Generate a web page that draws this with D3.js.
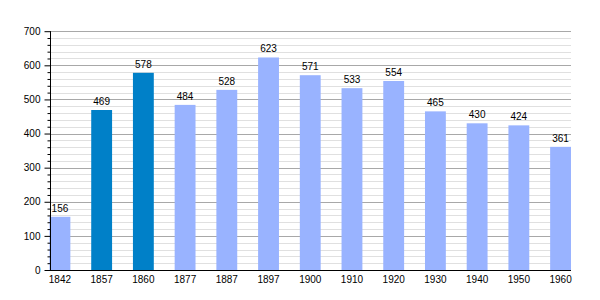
<!DOCTYPE html>
<html><head><meta charset="utf-8">
<script src="https://cdn.jsdelivr.net/npm/d3@7"></script>
<style>body{margin:0;background:#fff}svg{display:block}text{font-family:"Liberation Sans",Arial,sans-serif;font-size:10px;fill:#000}</style>
</head><body><svg id="c" width="600" height="300"></svg>
<script>
const years = ["1842","1857","1860","1877","1887","1897","1900","1910","1920","1930","1940","1950","1960"];
const population = [156,469,578,484,528,623,571,533,554,465,430,424,361];
const highlighted = ["1857","1860"];
const yTicks = [0,100,200,300,400,500,600,700];

const svg = d3.select("#c");
const x = d3.scaleBand().domain(years).range([49.5,571]).paddingInner(0.5).paddingOuter(0);
const y = d3.scaleLinear().domain([0,700]).range([270,31.2]);
const x0 = 50, x1 = 571;

// minor gridlines
const minor = d3.range(20,701,20).filter(v=>v%100!==0);
svg.append("g").selectAll("line").data(minor).join("line")
  .attr("x1",x0).attr("x2",x1).attr("y1",d=>Math.round(y(d))+0.5).attr("y2",d=>Math.round(y(d))+0.5)
  .attr("stroke","#e0e0e0").attr("stroke-width",1);
svg.append("g").selectAll("line").data(yTicks.filter(v=>v>0)).join("line")
  .attr("x1",x0).attr("x2",x1).attr("y1",d=>Math.round(y(d))+0.5).attr("y2",d=>Math.round(y(d))+0.5)
  .attr("stroke","#a8a8a8").attr("stroke-width",1);

// bars
svg.append("g").selectAll("rect").data(years).join("rect")
  .attr("x",d=>x(d)).attr("width",x.bandwidth())
  .attr("y",(d,i)=>y(population[i])).attr("height",(d,i)=>y(0)-y(population[i]))
  .attr("fill",d=>highlighted.includes(d)?"#0080c8":"#99b3ff");

// value labels
svg.append("g").selectAll("text").data(years).join("text")
  .attr("x",d=>x(d)+x.bandwidth()/2).attr("y",(d,i)=>y(population[i])-5)
  .attr("text-anchor","middle").text((d,i)=>population[i]);

// y axis
const yAxis = d3.axisLeft(y).tickValues(yTicks).tickSize(6).tickPadding(4);
const gy = svg.append("g").attr("transform",`translate(${x0+0.5},0)`).call(yAxis);
gy.select(".domain").attr("stroke","#000").attr("d",`M0,${y(700)}V${y(0)}`);
gy.selectAll(".tick text").attr("font-family",null).attr("font-size",null).style("font-size","10px");
const yMinor = d3.axisLeft(y).tickValues(minor).tickSize(3).tickFormat("");
const gm = svg.append("g").attr("transform",`translate(${x0+0.5},0)`).call(yMinor);
gm.select(".domain").remove();

// x axis
const xAxis = d3.axisBottom(x).tickSize(0).tickPadding(5);
const gx = svg.append("g").attr("transform",`translate(0,${y(0)+0.5})`).call(xAxis);
gx.select(".domain").attr("stroke","#000").attr("d",`M${x0},0H${x1}`);
gx.selectAll(".tick text").attr("font-family",null).attr("font-size",null).style("font-size","10px");
</script></body></html>
